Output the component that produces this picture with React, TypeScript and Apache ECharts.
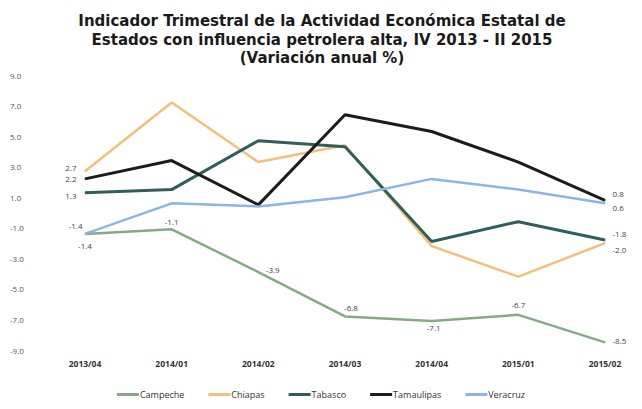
import React, { useEffect, useRef } from "react";
import * as echarts from "echarts";

const categories = ["2013/04", "2014/01", "2014/02", "2014/03", "2014/04", "2015/01", "2015/02"];
const campeche = [-1.4, -1.1, -3.9, -6.8, -7.1, -6.7, -8.5];
const chiapas = [2.7, 7.2, 3.3, 4.4, -2.2, -4.2, -2.0];
const tabasco = [1.3, 1.5, 4.7, 4.3, -1.9, -0.6, -1.8];
const tamaulipas = [2.2, 3.4, 0.5, 6.4, 5.3, 3.3, 0.8];
const veracruz = [-1.4, 0.6, 0.4, 1.0, 2.2, 1.5, 0.6];
const yTicks = [-9, -7, -5, -3, -1, 1, 3, 5, 7, 9];

const titleLines = [
  "Indicador Trimestral de la Actividad Económica Estatal de",
  "Estados con influencia petrolera alta, IV 2013 - II 2015",
  "(Variación anual %)",
];

export default function App() {
  const ref = useRef<HTMLDivElement>(null);
  useEffect(() => {
    if (!ref.current) return;
    const chart = echarts.init(ref.current, null, { renderer: "svg" });
    const font = "Open Sans";
    const lbl = (pos: any, offset?: number[]) => ({
      show: true,
      position: pos,
      offset: offset || [0, 0],
      fontSize: 8,
      color: "#444",
      fontFamily: font,
      formatter: (p: any) => Number(p.value).toFixed(1),
    });
    const mk = (vals: number[], labels: Record<number, any>) =>
      vals.map((v, i) => (labels[i] ? { value: v, label: labels[i] } : { value: v }));
    const series = [
      {
        name: "Campeche",
        color: "#86aa86",
        width: 2.5,
        data: mk(campeche, {
          0: lbl("bottom", [0, 2]),
          1: lbl("top", [0, 2]),
          2: lbl("right", [2, -3]),
          3: lbl("top", [6, 1]),
          4: lbl("bottom", [2, -3]),
          5: lbl("top", [0, -1]),
          6: lbl("right", [2, -2]),
        }),
      },
      {
        name: "Chiapas",
        color: "#f2c078",
        width: 2.5,
        data: mk(chiapas, { 0: lbl("left", [-3, -4]), 6: lbl("right", [2, 6]) }),
      },
      {
        name: "Tabasco",
        color: "#2f5f5b",
        width: 3,
        data: mk(tabasco, { 0: lbl("left", [-3, 3]), 6: lbl("right", [2, -7]) }),
      },
      {
        name: "Tamaulipas",
        color: "#1c1c1c",
        width: 3,
        data: mk(tamaulipas, { 0: lbl("left", [-3, 0]), 6: lbl("right", [2, -7]) }),
      },
      {
        name: "Veracruz",
        color: "#8bb5e5",
        width: 2.5,
        data: mk(veracruz, { 0: lbl("left", [3, -8]), 6: lbl("right", [2, 4]) }),
      },
    ];
    const titleTops = [13, 32, 50];
    chart.setOption({
      animation: false,
      backgroundColor: "#ffffff",
      title: titleLines.map((t, i) => ({
        text: t,
        left: 322,
        textAlign: "center",
        top: titleTops[i],
        padding: 0,
        textStyle: {
          fontFamily: "DejaVu Sans",
          fontSize: 15,
          fontWeight: "bold",
          color: "#1a1a1a",
        },
      })),
      grid: { left: 85, right: 37, top: 75, bottom: 59, containLabel: false },
      xAxis: {
        type: "category",
        data: categories,
        boundaryGap: false,
        axisLine: { show: false },
        axisTick: { show: false },
        axisLabel: {
          fontSize: 8.5,
          color: "#333",
          fontFamily: font,
          fontWeight: "bold",
          margin: 9,
        },
        splitLine: { show: false },
      },
      yAxis: {
        type: "value",
        min: yTicks[0],
        max: yTicks[yTicks.length - 1],
        interval: 2,
        axisLine: { show: false },
        axisTick: { show: false },
        splitLine: { show: false },
        axisLabel: {
          fontSize: 8,
          color: "#555",
          fontFamily: font,
          margin: 75,
          align: "left",
          formatter: (v: number) => v.toFixed(1),
        },
      },
      legend: {
        bottom: 5,
        left: "center",
        itemWidth: 22,
        itemHeight: 3,
        itemGap: 24,
        icon: "rect",
        textStyle: { fontSize: 9, color: "#333", fontFamily: font, padding: [0, 0, 0, -4] },
        data: series.map((s) => s.name),
      },
      series: series.map((s) => ({
        name: s.name,
        type: "line",
        data: s.data,
        symbol: "circle",
        symbolSize: 1,
        showSymbol: true,
        color: s.color,
        itemStyle: { color: s.color },
        lineStyle: { width: s.width, color: s.color },
      })),
    });
    return () => chart.dispose();
  }, []);
  return (
    <div
      ref={ref}
      style={{ position: "fixed", left: 0, top: 0, width: 642, height: 409, background: "#fff" }}
    />
  );
}
